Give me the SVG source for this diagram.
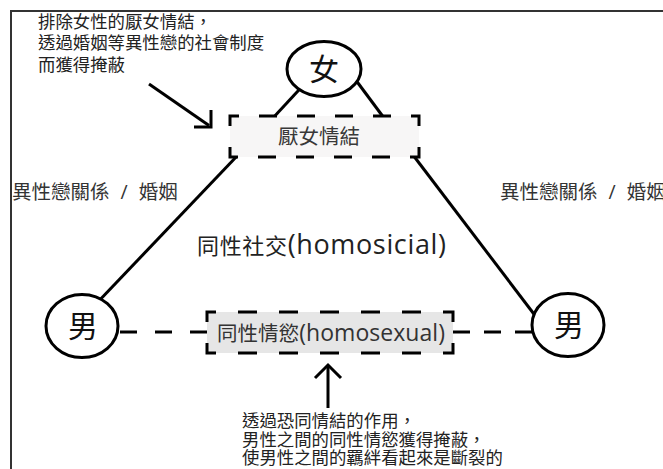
<svg xmlns="http://www.w3.org/2000/svg" width="663" height="469" viewBox="0 0 663 469">
<style>
.frame{fill:none;stroke:#333;stroke-width:2}
.ln{fill:none;stroke:#000;stroke-width:3}
.dash{fill:none;stroke:#000;stroke-width:3}
.circ{fill:#fff;stroke:#000;stroke-width:3}
.t{font-family:"Open Sans","Noto Sans CJK TC","Noto Sans CJK SC",sans-serif;fill:#222}
.note{font-size:17.4px}
.lbl{font-size:19.5px;fill:#333}
.big{font-family:"Noto Sans CJK TC","Noto Sans CJK SC",sans-serif;fill:#111}
</style>
<rect width="663" height="469" fill="#fff"/>
<path class="frame" d="M11,469 V11 H663"/>

<g id="connectors">
  <path class="ln" d="M272,119 L310,78"/>
  <path class="ln" d="M384,118 L355,79"/>
  <path class="ln" d="M238,155 L95,305"/>
  <path class="ln" d="M413,155 L540,322"/>
  <path class="dash" d="M207,332 H119" stroke-dasharray="17 18"/>
  <path class="dash" d="M453,332 H532" stroke-dasharray="17 14"/>
  <path class="ln" d="M149,84 L209,125.5"/>
  <path class="ln" d="M194,127 H211 V110"/>
  <path class="ln" d="M328,408 V365"/>
  <path class="ln" d="M315,378 L328,365 L341,378"/>
</g>

<g id="note-top">
  <text class="t note" x="38" y="27.5">排除女性的厭女情結，</text>
  <text class="t note" x="38" y="49">透過婚姻等異性戀的社會制度</text>
  <text class="t note" x="38" y="70.5">而獲得掩蔽</text>
</g>

<g id="node-woman">
  <ellipse class="circ" cx="324" cy="69" rx="37" ry="27.5"/>
  <text class="big" x="324" y="80" font-size="30" text-anchor="middle">女</text>
</g>

<g id="node-misogyny">
  <rect x="230" y="116" width="189" height="41" fill="#f7f6f6"/>
  <path class="dash" d="M249,116 H419 V157 H230 V116 Z" stroke-dasharray="0 10 18 20 18 20 18 20 18 20 18 21 19 20 18 20 18 20 18 20 18 20 18 21 19 10"/>
  <text class="t" x="319" y="144" font-size="20.5" text-anchor="middle" style="fill:#383838">厭女情結</text>
</g>

<g id="label-left">
  <text class="t lbl" x="12" y="199">異性戀關係<tspan dx="6"> / </tspan><tspan dx="6">婚姻</tspan></text>
</g>
<g id="label-right">
  <text class="t lbl" x="500" y="199">異性戀關係<tspan dx="6"> / </tspan><tspan dx="6">婚姻</tspan></text>
</g>

<g id="homosocial">
  <text class="t" x="197" y="254" font-size="22" textLength="249" lengthAdjust="spacing">同性社交<tspan font-size="27">(homosicial)</tspan></text>
</g>

<g id="node-man-left">
  <ellipse class="circ" cx="82" cy="326" rx="36" ry="31.5"/>
  <text class="big" x="83" y="337" font-size="30" text-anchor="middle">男</text>
</g>

<g id="node-man-right">
  <ellipse class="circ" cx="568" cy="325" rx="36" ry="31.5"/>
  <text class="big" x="569" y="336" font-size="30" text-anchor="middle">男</text>
</g>

<g id="node-homosexual">
  <rect x="207" y="312" width="246" height="41" fill="#e6e6e6"/>
  <path class="dash" d="M227,312 H453 V353 H207 V312 Z" stroke-dasharray="0 11 19 22 19 22 19 22 19 22 19 22 20 21 20 22 19 22 19 22 19 22 19 22 19 22 19 21 19 11"/>
  <text class="t" x="217" y="341" font-size="20.5" textLength="228" lengthAdjust="spacing" style="fill:#333">同性情慾<tspan font-size="23">(homosexual)</tspan></text>
</g>

<g id="note-bottom">
  <text class="t note" x="242" y="426.5">透過恐同情結的作用，</text>
  <text class="t note" x="242" y="445.5">男性之間的同性情慾獲得掩蔽，</text>
  <text class="t note" x="242" y="464">使男性之間的羈絆看起來是斷裂的</text>
</g>
</svg>
